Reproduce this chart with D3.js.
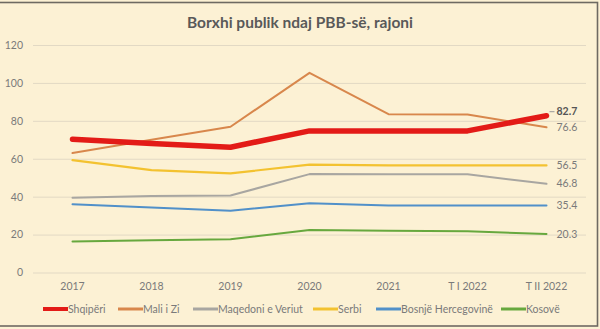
<!DOCTYPE html>
<html><head><meta charset="utf-8">
<script src="https://cdn.jsdelivr.net/npm/d3@7/dist/d3.min.js"></script>
<style>
html,body{margin:0;padding:0;background:#fcf1d4;}
svg{display:block;}
</style></head>
<body>
<svg id="c" width="600" height="329"></svg>
<script>
const title = "Borxhi publik ndaj PBB-së, rajoni";
const categories = ["2017","2018","2019","2020","2021","T I 2022","T II 2022"];
const yTicks = [0,20,40,60,80,100,120];
const seriesNames = ["Shqipëri","Mali i Zi","Maqedoni e Veriut","Serbi","Bosnjë Hercegovinë","Kosovë"];
const shqiperi = [70.3, 68.0, 66.1, 74.7, 74.6, 74.7, 82.7];
const maliIZi  = [63.0, 70.0, 76.9, 105.3, 83.5, 83.3, 76.6];
const maqedoni = [39.4, 40.4, 40.6, 51.9, 51.8, 51.8, 46.8];
const serbi    = [59.3, 54.0, 52.3, 56.9, 56.5, 56.5, 56.5];
const bosnje   = [36.0, 34.3, 32.6, 36.5, 35.4, 35.4, 35.4];
const kosove   = [16.3, 17.0, 17.5, 22.4, 22.0, 21.8, 20.3];
const seriesValues = [shqiperi, maliIZi, maqedoni, serbi, bosnje, kosove];
const colors = ["#e31b17","#d8874c","#a8a6a1","#f3c230","#5190c9","#67a83e"];
const widths = [5.5,2,2,2.2,2,2];

const svg = d3.select("#c");
const W = 600, H = 329;
svg.append("rect").attr("x",0).attr("y",0).attr("width",W).attr("height",H).attr("fill","#fcf1d4");
// frame
svg.append("rect").attr("x",-2).attr("y",2.5).attr("width",599.5).attr("height",323.5)
  .attr("fill","none").attr("stroke","#6e6a62").attr("stroke-width",1.6);

const m = {l:33, r:14, t:45, b:57};
const x = d3.scaleBand().domain(categories).range([33, 586]);
const y = d3.scaleLinear().domain([0,120]).range([272.5, 45]);
const font = "Lato, 'Open Sans', sans-serif";

svg.append("text").attr("x",300).attr("y",28).attr("text-anchor","middle")
  .attr("font-family",font).attr("font-weight","bold").attr("font-size",15.5)
  .attr("fill","#595959").text(title);

// grid
const yAxis = d3.axisLeft(y).tickValues(yTicks).tickSize(-(586-33)).tickPadding(10);
const gy = svg.append("g").attr("transform","translate(33,0)").call(yAxis);
gy.select(".domain").remove();
gy.selectAll(".tick line").attr("stroke","#e2d9c4").attr("stroke-width",1);
gy.selectAll(".tick text").attr("font-family",font).attr("font-size",10.5).attr("fill","#7a7a7a");

const xAxis = d3.axisBottom(x).tickSize(0).tickPadding(10);
const gx = svg.append("g").attr("transform","translate(0,272.5)").call(xAxis);
gx.select(".domain").remove();
gx.selectAll(".tick text").attr("font-family",font).attr("font-size",10.5).attr("fill","#7a7a7a");

const line = d3.line().x((d,i)=>x(categories[i])+x.bandwidth()/2).y(d=>y(d));
// draw order: others first, red on top
const order = [1,2,3,4,5,0];
order.forEach(k=>{
  svg.append("path").datum(seriesValues[k]).attr("d",line)
    .attr("fill","none").attr("stroke",colors[k]).attr("stroke-width",widths[k])
    .attr("stroke-linejoin","round").attr("stroke-linecap","round");
});

// end labels
const lastX = x(categories[6]) + x.bandwidth()/2;
const labelDy = [-4, 0, 0, 0, 0, 0];
seriesValues.forEach((vals,k)=>{
  const v = vals[6];
  svg.append("text").attr("x",lastX+10).attr("y",y(v)+labelDy[k]).attr("dy","0.35em")
    .attr("font-family",font).attr("font-size",10.5)
    .attr("font-weight",k===0?"bold":"normal")
    .attr("fill",k===0?"#555555":"#7a7a7a").text(v.toFixed(1));
});
svg.append("line").attr("x1",lastX+3).attr("x2",lastX+8)
  .attr("y1",y(shqiperi[6])-4).attr("y2",y(shqiperi[6])-4)
  .attr("stroke","#999").attr("stroke-width",1);

// legend
const legX = [43,118,193,313,376,501];
seriesNames.forEach((n,k)=>{
  svg.append("line").attr("x1",legX[k]).attr("x2",legX[k]+25).attr("y1",309).attr("y2",309)
    .attr("stroke",colors[k]).attr("stroke-width",k===0?4:3);
  svg.append("text").attr("x",legX[k]+25).attr("y",309).attr("dy","0.35em")
    .attr("font-family",font).attr("font-size",10.5).attr("fill","#7a7a7a").text(n);
});
</script>
</body></html>
